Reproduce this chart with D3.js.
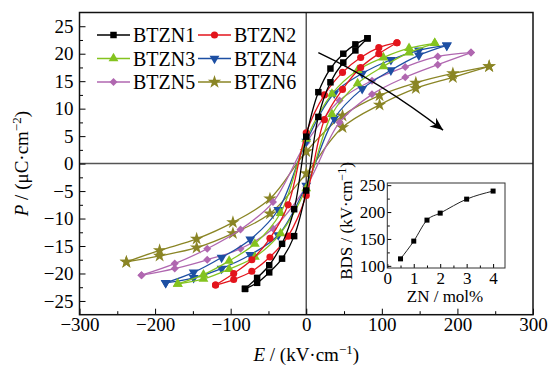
<!DOCTYPE html>
<html>
<head>
<meta charset="utf-8">
<script src="https://cdn.jsdelivr.net/npm/d3@7"></script>
<style>
  body { margin: 0; background: #fff; }
  svg { display: block; }
  svg text { font-family: "Liberation Serif", "DejaVu Serif", serif; }
</style>
</head>
<body>
<div id="chart"></div>
<script>
// sample names
const names = ["BTZN1", "BTZN2", "BTZN3", "BTZN4", "BTZN5", "BTZN6"];

// E (kV/cm) at the markers, and P (uC/cm2) on the upper (E falling) and lower (E rising) branch
const eBTZN1 = [81, 65, 49, 32, 16, 0, -16, -32, -49, -65, -81];
const upBTZN1 = [22.8, 21.7, 20.0, 17.3, 13.0, 4.9, -8.3, -14.6, -18.5, -20.8, -22.8];
const lowBTZN1 = [22.8, 20.6, 18.4, 14.8, 8.5, -4.9, -13.2, -17.3, -19.8, -21.7, -22.8];

const eBTZN2 = [120, 96, 72, 48, 24, 0, -24, -48, -72, -96, -120];
const upBTZN2 = [22.0, 21.1, 19.3, 16.6, 12.5, 5.6, -7.5, -13.6, -17.5, -20.0, -22.1];
const lowBTZN2 = [22.0, 20.0, 17.5, 13.5, 8.0, -5.8, -13.2, -17.0, -19.6, -21.1, -22.1];

const eBTZN3 = [170, 136, 102, 68, 34, 0, -34, -68, -102, -136, -170];
const upBTZN3 = [21.9, 21.0, 19.3, 17.0, 12.7, 4.5, -9.0, -14.6, -17.7, -20.2, -21.9];
const lowBTZN3 = [21.9, 20.2, 17.7, 14.6, 9.0, -4.5, -12.7, -17.0, -19.2, -21.0, -21.9];

const eBTZN4 = [186, 149, 112, 74, 37, 0, -37, -74, -112, -149, -186];
const upBTZN4 = [21.5, 20.6, 18.9, 16.4, 12.8, 4.0, -8.4, -13.8, -17.1, -19.8, -21.7];
const lowBTZN4 = [21.5, 19.7, 17.0, 13.6, 8.2, -4.0, -13.0, -16.6, -19.1, -20.8, -21.7];

const eBTZN5 = [218, 174, 131, 87, 44, 0, -44, -87, -131, -174, -218];
const upBTZN5 = [20.2, 19.5, 17.6, 15.1, 11.5, 3.8, -7.0, -12.0, -15.5, -18.2, -20.3];
const lowBTZN5 = [20.2, 18.0, 15.7, 12.6, 7.5, -4.2, -11.8, -15.5, -17.5, -19.1, -20.3];

const eBTZN6 = [242, 194, 145, 97, 48, 0, -48, -97, -145, -194, -238];
const upBTZN6 = [17.7, 16.4, 14.7, 12.4, 8.7, 2.2, -6.4, -10.7, -13.7, -15.8, -17.9];
const lowBTZN6 = [17.7, 15.7, 13.7, 10.7, 6.6, -1.8, -9.1, -12.7, -15.3, -16.8, -17.9];

// inset: breakdown strength vs ZN content
const znContent = [0.5, 1, 1.5, 2, 3, 4];
const bdsValues = [113, 146, 185, 198, 224, 239];

// ticks
const eTicks = [-300, -200, -100, 0, 100, 200, 300];
const eMinor = [-250, -150, -50, 50, 150, 250];
const pTicks = [-25, -20, -15, -10, -5, 0, 5, 10, 15, 20, 25];
const pMinor = [-22.5, -17.5, -12.5, -7.5, -2.5, 2.5, 7.5, 12.5, 17.5, 22.5];
const znTicks = [0, 1, 2, 3, 4];
const znMinor = [0.5, 1.5, 2.5, 3.5];
const bdsTicks = [100, 150, 200, 250];
const bdsMinor = [125, 175, 225];

// arrow (E, P): start, bend, end
const arrowPts = [[16, 20.2], [99, 14.8], [181, 6.1]];

const colors = ["#000000", "#e3141c", "#84c31f", "#1d4fa3", "#b067b0", "#8a8525"];
const shapes = [d3.symbolSquare, d3.symbolCircle, d3.symbolTriangle, d3.symbolTriangle, d3.symbolSquare, d3.symbolStar];
const shapeRot = [0, 0, 0, 180, 45, 0];
const shapeSize = [42, 40, 42, 42, 32, 56];

const samples = [
  { e: eBTZN1, up: upBTZN1, low: lowBTZN1 },
  { e: eBTZN2, up: upBTZN2, low: lowBTZN2 },
  { e: eBTZN3, up: upBTZN3, low: lowBTZN3 },
  { e: eBTZN4, up: upBTZN4, low: lowBTZN4 },
  { e: eBTZN5, up: upBTZN5, low: lowBTZN5 },
  { e: eBTZN6, up: upBTZN6, low: lowBTZN6 }
];

const svg = d3.select("#chart")
  .append("svg")
  .attr("width", 552)
  .attr("height", 370)
  .attr("font-family", "Liberation Serif, serif");

// main plot
const plotL = 79.5, plotR = 533, plotT = 12.5, plotB = 314.7;
const x = d3.scaleLinear().domain([-300, 300]).range([plotL, plotR]);
const y = d3.scaleLinear().domain([-27.5, 27.5]).range([plotB, plotT]);

// drop d3's default axis font and the domain path, ticks black
function tidy(g, size) {
  g.attr("font-family", null).attr("font-size", null);
  g.select(".domain").remove();
  g.selectAll(".tick line").attr("stroke", "#000").attr("stroke-width", 1);
  g.selectAll(".tick text").attr("font-size", size).attr("fill", "#000");
}

// zero lines
svg.append("line")
  .attr("x1", plotL).attr("x2", plotR)
  .attr("y1", y(0)).attr("y2", y(0))
  .attr("stroke", "#555").attr("stroke-width", 1.5);
svg.append("line")
  .attr("x1", x(0)).attr("x2", x(0))
  .attr("y1", plotT).attr("y2", plotB)
  .attr("stroke", "#555").attr("stroke-width", 1.5);

// x axis
svg.append("g")
  .attr("transform", "translate(0," + plotB + ")")
  .call(d3.axisBottom(x).tickValues(eTicks).tickSizeInner(-6).tickSizeOuter(0).tickPadding(3))
  .call(tidy, 19);
svg.append("g")
  .attr("transform", "translate(0," + plotB + ")")
  .call(d3.axisBottom(x).tickValues(eMinor).tickSizeInner(-3.5).tickSizeOuter(0).tickFormat(""))
  .call(tidy, 19);

// y axis
svg.append("g")
  .attr("transform", "translate(" + plotL + ",0)")
  .call(d3.axisLeft(y).tickValues(pTicks).tickSizeInner(-6).tickSizeOuter(0).tickPadding(6))
  .call(tidy, 19);
svg.append("g")
  .attr("transform", "translate(" + plotL + ",0)")
  .call(d3.axisLeft(y).tickValues(pMinor).tickSizeInner(-3.5).tickSizeOuter(0).tickFormat(""))
  .call(tidy, 19);

// frame
svg.append("rect")
  .attr("x", plotL).attr("y", plotT)
  .attr("width", plotR - plotL).attr("height", plotB - plotT)
  .attr("fill", "none").attr("stroke", "#111").attr("stroke-width", 1.5);

// axis titles
const xTitle = svg.append("text")
  .attr("x", x(0)).attr("y", 361)
  .attr("text-anchor", "middle")
  .attr("font-size", 19);
xTitle.append("tspan").attr("font-style", "italic").text("E");
xTitle.append("tspan").text(" / (kV·cm");
xTitle.append("tspan").attr("font-size", 13).attr("dy", -7).text("−1");
xTitle.append("tspan").attr("dy", 7).text(")");

const yTitle = svg.append("text")
  .attr("transform", "translate(28," + y(0) + ") rotate(-90)")
  .attr("text-anchor", "middle")
  .attr("font-size", 19);
yTitle.append("tspan").attr("font-style", "italic").text("P");
yTitle.append("tspan").text(" / (μC·cm");
yTitle.append("tspan").attr("font-size", 13).attr("dy", -7).text("−2");
yTitle.append("tspan").attr("dy", 7).text(")");

// loops
const line = d3.line()
  .x(d => x(d[0]))
  .y(d => y(d[1]))
  .curve(d3.curveCatmullRom.alpha(0.5));

function symbolPath(i) {
  return d3.symbol().type(shapes[i]).size(shapeSize[i])();
}

for (let i = samples.length - 1; i >= 0; i--) {
  const s = samples[i];
  const upper = s.e.map((v, k) => [v, s.up[k]]);
  const lower = s.e.map((v, k) => [v, s.low[k]]);
  const g = svg.append("g");
  [upper, lower].forEach(function(branch) {
    g.append("path")
      .attr("d", line(branch))
      .attr("fill", "none")
      .attr("stroke", colors[i])
      .attr("stroke-width", 1.3);
  });
  g.selectAll("path.pt")
    .data(upper.concat(lower))
    .enter()
    .append("path")
    .attr("class", "pt")
    .attr("d", symbolPath(i))
    .attr("transform", d => "translate(" + x(d[0]) + "," + y(d[1]) + ") rotate(" + shapeRot[i] + ")")
    .attr("fill", colors[i]);
}

// arrow
svg.append("defs").append("marker")
  .attr("id", "head")
  .attr("viewBox", "-14 -7 16 14")
  .attr("refX", 0).attr("refY", 0)
  .attr("markerWidth", 16).attr("markerHeight", 14)
  .attr("markerUnits", "userSpaceOnUse")
  .attr("orient", "auto")
  .append("path")
  .attr("d", "M0,0 L-13,-5.5 L-9,0 L-13,5.5 Z")
  .attr("fill", "#000");

svg.append("path")
  .attr("d", "M" + x(arrowPts[0][0]) + "," + y(arrowPts[0][1]) +
    " Q" + x(arrowPts[1][0]) + "," + y(arrowPts[1][1]) +
    " " + x(arrowPts[2][0]) + "," + y(arrowPts[2][1]))
  .attr("fill", "none")
  .attr("stroke", "#000")
  .attr("stroke-width", 1.4)
  .attr("marker-end", "url(#head)");

// legend
const legend = svg.append("g");
names.forEach(function(name, i) {
  const x0 = i % 2 === 0 ? 97 : 198;
  const cy = 35 + Math.floor(i / 2) * 23.5;
  legend.append("line")
    .attr("x1", x0).attr("x2", x0 + 33)
    .attr("y1", cy).attr("y2", cy)
    .attr("stroke", colors[i]).attr("stroke-width", 1.3);
  legend.append("path")
    .attr("d", symbolPath(i))
    .attr("transform", "translate(" + (x0 + 16.5) + "," + cy + ") rotate(" + shapeRot[i] + ")")
    .attr("fill", colors[i]);
  legend.append("text")
    .attr("x", x0 + 36).attr("y", cy + 7)
    .attr("font-size", 20)
    .text(name);
});

// inset
const ix = d3.scaleLinear().domain([0, 4.45]).range([387.3, 505]);
const iy = d3.scaleLinear().domain([96, 254]).range([268, 183]);

svg.append("g")
  .attr("transform", "translate(0,268)")
  .call(d3.axisBottom(ix).tickValues(znTicks).tickFormat(d3.format("d"))
    .tickSizeInner(-4).tickSizeOuter(0).tickPadding(4))
  .call(tidy, 17);
svg.append("g")
  .attr("transform", "translate(0,268)")
  .call(d3.axisBottom(ix).tickValues(znMinor).tickSizeInner(-2.5).tickSizeOuter(0).tickFormat(""))
  .call(tidy, 17);
svg.append("g")
  .attr("transform", "translate(387.3,0)")
  .call(d3.axisLeft(iy).tickValues(bdsTicks).tickFormat(d3.format("d"))
    .tickSizeInner(-4).tickSizeOuter(0).tickPadding(2))
  .call(tidy, 17);
svg.append("g")
  .attr("transform", "translate(387.3,0)")
  .call(d3.axisLeft(iy).tickValues(bdsMinor).tickSizeInner(-2.5).tickSizeOuter(0).tickFormat(""))
  .call(tidy, 17);

svg.append("rect")
  .attr("x", 387.3).attr("y", 183)
  .attr("width", 505 - 387.3).attr("height", 268 - 183)
  .attr("fill", "none").attr("stroke", "#333").attr("stroke-width", 1);

const bdsLine = d3.line()
  .x((d, k) => ix(znContent[k]))
  .y(d => iy(d))
  .curve(d3.curveMonotoneX);

svg.append("path")
  .attr("d", bdsLine(bdsValues))
  .attr("fill", "none")
  .attr("stroke", "#222")
  .attr("stroke-width", 1);

svg.selectAll("rect.bds")
  .data(bdsValues)
  .enter()
  .append("rect")
  .attr("class", "bds")
  .attr("x", (d, k) => ix(znContent[k]) - 2.5)
  .attr("y", d => iy(d) - 2.5)
  .attr("width", 5).attr("height", 5)
  .attr("fill", "#000");

svg.append("text")
  .attr("x", 445).attr("y", 302)
  .attr("text-anchor", "middle")
  .attr("font-size", 17)
  .text("ZN / mol%");

const iyTitle = svg.append("text")
  .attr("transform", "translate(352,221) rotate(-90)")
  .attr("text-anchor", "middle")
  .attr("font-size", 17);
iyTitle.append("tspan").text("BDS / (kV·cm");
iyTitle.append("tspan").attr("font-size", 12).attr("dy", -6).text("−1");
iyTitle.append("tspan").attr("dy", 6).text(")");
</script>
</body>
</html>
